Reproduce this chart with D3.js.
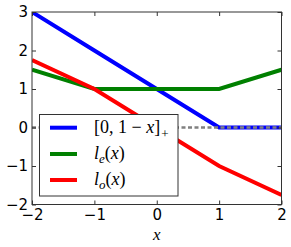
<!DOCTYPE html>
<html>
<head>
<meta charset="utf-8">
<script src="https://cdn.jsdelivr.net/npm/d3@7"></script>
<style>
  body { margin: 0; background: #fff; }
  svg { display: block; }
</style>
</head>
<body>
<div id="chart"></div>
<script>
// data
var xs = [-2, -1, 0, 1, 2];
var hinge = [3, 2, 1, 0, 0];        // [0, 1-x]+
var lossE = [1.5, 1, 1, 1, 1.5];    // l_e(x)
var lossO = [1.75, 1, 0, -1, -1.75]; // l_o(x)
var xTicks = [-2, -1, 0, 1, 2];
var yTicks = [-2, -1, 0, 1, 2, 3];

var W = 291, H = 247;
var plotL = 32, plotR = 281.5, plotT = 12, plotB = 204.5;

var svg = d3.select("#chart").append("svg")
  .attr("width", W)
  .attr("height", H);

var x = d3.scaleLinear().domain([-2, 2]).range([plotL, plotR]);
var y = d3.scaleLinear().domain([-2, 3]).range([plotB, plotT]);

svg.append("clipPath").attr("id", "clip")
  .append("rect")
  .attr("x", plotL).attr("y", plotT)
  .attr("width", plotR - plotL).attr("height", plotB - plotT);

var plot = svg.append("g").attr("clip-path", "url(#clip)");

var line = d3.line()
  .x(function(d) { return x(d[0]); })
  .y(function(d) { return y(d[1]); });

var series = [
  { name: "hinge", vals: hinge, color: "#0000ff" },
  { name: "le", vals: lossE, color: "#008000" },
  { name: "lo", vals: lossO, color: "#ff0000" }
];

series.forEach(function(s) {
  plot.append("path")
    .datum(xs.map(function(v, i) { return [v, s.vals[i]]; }))
    .attr("fill", "none")
    .attr("stroke", s.color)
    .attr("stroke-width", 4)
    .attr("d", line);
});

// dashed zero line
plot.append("path")
  .datum([[-2, 0], [2, 0]])
  .attr("fill", "none")
  .attr("stroke", "#808080")
  .attr("stroke-width", 2.5)
  .attr("stroke-dasharray", "4,2.5")
  .attr("d", line);

// axes, ticks pointing inward
function styleAxis(g) {
  g.select(".domain").remove();
  g.selectAll(".tick line").attr("stroke", "#333");
  g.selectAll("text")
    .attr("fill", "#000")
    .style("font-family", "'DejaVu Sans', sans-serif")
    .style("font-size", "15px");
}
function fmt(d) { return d < 0 ? "\u2212" + Math.abs(d) : String(d); }

svg.append("g")
  .attr("transform", "translate(0," + plotB + ")")
  .call(d3.axisBottom(x).tickValues(xTicks).tickSize(-4).tickPadding(5).tickFormat(fmt))
  .call(styleAxis);

svg.append("g")
  .attr("transform", "translate(0," + plotT + ")")
  .call(d3.axisTop(x).tickValues(xTicks).tickSize(-4).tickFormat(""))
  .call(styleAxis);

svg.append("g")
  .attr("transform", "translate(" + plotL + ",0)")
  .call(d3.axisLeft(y).tickValues(yTicks).tickSize(-4).tickPadding(4).tickFormat(fmt))
  .call(styleAxis);

svg.append("g")
  .attr("transform", "translate(" + plotR + ",0)")
  .call(d3.axisRight(y).tickValues(yTicks).tickSize(-4).tickFormat(""))
  .call(styleAxis);

// frame
svg.append("rect")
  .attr("x", plotL).attr("y", plotT)
  .attr("width", plotR - plotL).attr("height", plotB - plotT)
  .attr("fill", "none")
  .attr("stroke", "#333")
  .attr("stroke-width", 1);

// x label
svg.append("text")
  .attr("x", x(0))
  .attr("y", 240)
  .attr("text-anchor", "middle")
  .style("font-family", "'Liberation Serif', serif")
  .style("font-style", "italic")
  .style("font-size", "17px")
  .text("x");

// legend
var lg = svg.append("g");
lg.append("rect")
  .attr("x", 39.5).attr("y", 114.5)
  .attr("width", 138.5).attr("height", 81.5)
  .attr("fill", "#fff")
  .attr("stroke", "#333")
  .attr("stroke-width", 1);

var rowY = [127.7, 154, 180];
series.forEach(function(s, i) {
  lg.append("line")
    .attr("x1", 50).attr("x2", 77)
    .attr("y1", rowY[i]).attr("y2", rowY[i])
    .attr("stroke", s.color)
    .attr("stroke-width", 4);
});

function legendText(i) {
  return lg.append("text")
    .attr("x", 94)
    .attr("y", rowY[i] + 5)
    .style("font-family", "'Liberation Serif', serif")
    .style("font-size", "18px");
}

var t0 = legendText(0);
t0.append("tspan").text("[0, 1 \u2212 ");
t0.append("tspan").style("font-style", "italic").text("x");
t0.append("tspan").text("]");
t0.append("tspan").attr("dx", 1).attr("dy", 5).style("font-size", "13px").text("+");

var t1 = legendText(1);
t1.append("tspan").style("font-style", "italic").text("l");
t1.append("tspan").attr("dy", 4).style("font-style", "italic").style("font-size", "13px").text("e");
t1.append("tspan").attr("dy", -4).text("(");
t1.append("tspan").style("font-style", "italic").text("x");
t1.append("tspan").text(")");

var t2 = legendText(2);
t2.append("tspan").style("font-style", "italic").text("l");
t2.append("tspan").attr("dy", 4).style("font-style", "italic").style("font-size", "13px").text("o");
t2.append("tspan").attr("dy", -4).text("(");
t2.append("tspan").style("font-style", "italic").text("x");
t2.append("tspan").text(")");
</script>
</body>
</html>
